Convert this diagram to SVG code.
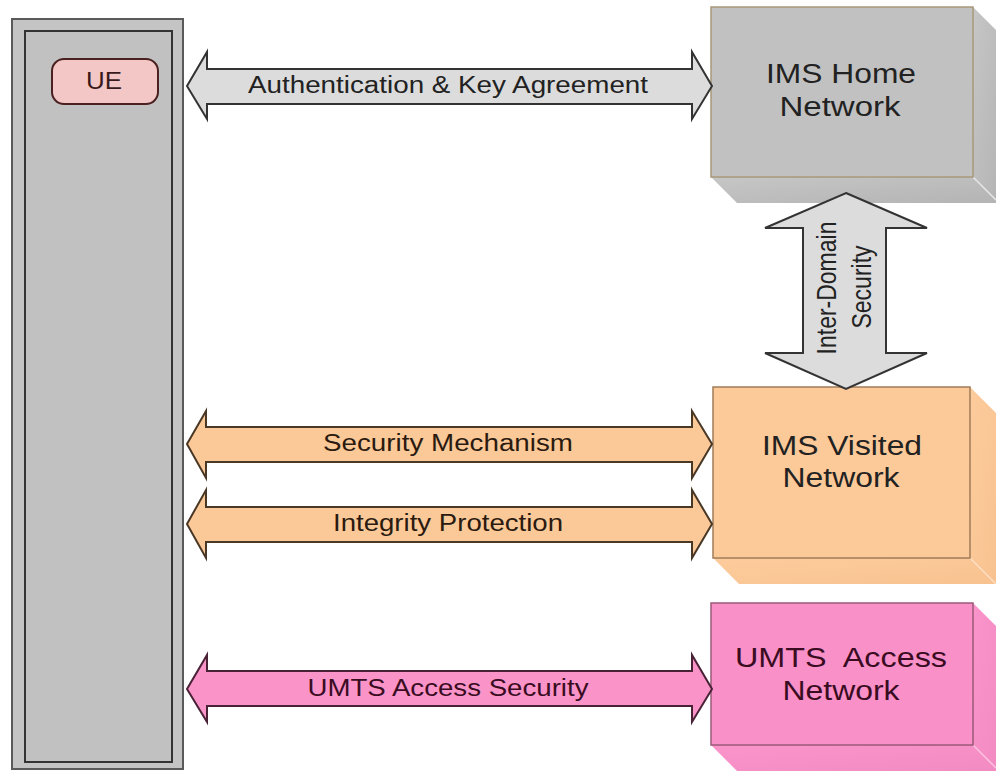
<svg xmlns="http://www.w3.org/2000/svg" width="996" height="771" viewBox="0 0 996 771">
  <style>
    text { font-family: "Liberation Sans", Arial, sans-serif; }
    .lbl { font-size: 23px; fill: #222; text-anchor: middle; }
    .big { font-size: 27px; fill: #222; text-anchor: middle; }
    .maroon { fill: #3a0c22; }
    .gray-arrow { fill: #dcdcdc; stroke: #333; stroke-width: 2; stroke-linejoin: miter; }
    .orange-arrow { fill: #fbc897; stroke: #4a3826; stroke-width: 2; }
    .pink-arrow { fill: #f993c8; stroke: #4a2236; stroke-width: 2; }
  </style>
  <defs>
    <linearGradient id="grayDepth" x1="0" y1="0" x2="1" y2="1">
      <stop offset="0" stop-color="#c6c6c6"/>
      <stop offset="1" stop-color="#b4b4b4"/>
    </linearGradient>
    <linearGradient id="orangeDepth" x1="0" y1="0" x2="1" y2="1">
      <stop offset="0" stop-color="#fdcc9c"/>
      <stop offset="1" stop-color="#f8c290"/>
    </linearGradient>
    <linearGradient id="pinkDepth" x1="0" y1="0" x2="1" y2="1">
      <stop offset="0" stop-color="#fa94cb"/>
      <stop offset="1" stop-color="#f28bc2"/>
    </linearGradient>
  </defs>

  <rect width="996" height="771" fill="#ffffff"/>

  <!-- UE terminal column -->
  <g id="ue">
    <rect x="12" y="19" width="171" height="750" fill="#c4c4c4" stroke="#5a5a5a" stroke-width="2"/>
    <rect x="25" y="31" width="147" height="731" fill="#c1c1c1" stroke="#333" stroke-width="2"/>
    <rect x="52" y="59" width="106" height="45" rx="12" ry="12" fill="#f4c7c7" stroke="#4a2020" stroke-width="2"/>
    <text class="lbl" x="104" y="89" textLength="36" lengthAdjust="spacingAndGlyphs" style="fill:#3a1a1a">UE</text>
  </g>

  <!-- IMS Home Network block -->
  <g id="ims-home">
    <polygon points="711,177 973,177 999,203 737,203" fill="url(#grayDepth)"/>
    <polygon points="973,7 999,33 999,203 973,177" fill="url(#grayDepth)"/>
    <line x1="973" y1="177" x2="996" y2="200" stroke="#e8e8e8" stroke-width="1.5"/>
    <rect x="711" y="7" width="262" height="170" fill="#c1c1c1" stroke="#a89878" stroke-width="1.5"/>
    <text class="big" x="841" y="83" textLength="150" lengthAdjust="spacingAndGlyphs">IMS Home</text>
    <text class="big" x="840" y="116" textLength="121" lengthAdjust="spacingAndGlyphs">Network</text>
  </g>

  <!-- IMS Visited Network block -->
  <g id="ims-visited">
    <polygon points="713,558 970,558 996,584 739,584" fill="url(#orangeDepth)"/>
    <polygon points="970,387 996,413 996,584 970,558" fill="url(#orangeDepth)"/>
    <line x1="970" y1="558" x2="996" y2="584" stroke="#fde0c4" stroke-width="1.5"/>
    <rect x="713" y="387" width="257" height="171" fill="#fcc998" stroke="#a07c5a" stroke-width="1.5"/>
    <text class="big" x="842" y="455" textLength="160" lengthAdjust="spacingAndGlyphs">IMS Visited</text>
    <text class="big" x="841" y="487" textLength="117" lengthAdjust="spacingAndGlyphs">Network</text>
  </g>

  <!-- UMTS Access Network block -->
  <g id="umts-access">
    <polygon points="711,745 973,745 999,771 737,771" fill="url(#pinkDepth)"/>
    <polygon points="973,603 999,629 999,771 973,745" fill="url(#pinkDepth)"/>
    <line x1="973" y1="745" x2="996" y2="768" stroke="#fcc0e0" stroke-width="1.5"/>
    <rect x="711" y="603" width="262" height="142" fill="#f990c8" stroke="#9a5a7a" stroke-width="1.5"/>
    <text class="big maroon" x="841" y="667" textLength="212" lengthAdjust="spacingAndGlyphs" xml:space="preserve">UMTS  Access</text>
    <text class="big maroon" x="841" y="700" textLength="117" lengthAdjust="spacingAndGlyphs">Network</text>
  </g>

  <!-- Security relations (double-headed block arrows) -->
  <g id="connectors">
    <g id="aka">
      <polygon class="gray-arrow" points="187,86 207,52 207,69 692,69 692,52 712,86 692,119 692,104 207,104 207,119"/>
      <text class="lbl" x="448" y="93" textLength="400" lengthAdjust="spacingAndGlyphs">Authentication &amp; Key Agreement</text>
    </g>
    <g id="inter-domain">
      <polygon class="gray-arrow" points="846,193 927,228 886,228 886,353 927,353 846,389 765,353 803,353 803,228 765,228"/>
      <text class="lbl" transform="translate(836,288) rotate(-90) scale(1,1.18)" x="0" y="0">Inter-Domain</text>
      <text class="lbl" transform="translate(871,287) rotate(-90) scale(1,1.18)" x="0" y="0">Security</text>
    </g>
    <g id="sec-mechanism">
      <polygon class="orange-arrow" points="187,444 206,411 206,427 692,427 692,411 712,444 692,478 692,462 206,462 206,478"/>
      <text class="lbl" x="448" y="451" textLength="250" lengthAdjust="spacingAndGlyphs" style="fill:#2a1a10">Security Mechanism</text>
    </g>
    <g id="integrity">
      <polygon class="orange-arrow" points="187,524 206,490 206,507 692,507 692,490 712,524 692,558 692,542 206,542 206,558"/>
      <text class="lbl" x="448" y="531" textLength="230" lengthAdjust="spacingAndGlyphs" style="fill:#2a1a10">Integrity Protection</text>
    </g>
    <g id="umts-security">
      <polygon class="pink-arrow" points="187,689 207,655 207,671 692,671 692,655 712,689 692,722 692,706 207,706 207,722"/>
      <text class="lbl maroon" x="448" y="696" textLength="281" lengthAdjust="spacingAndGlyphs">UMTS Access Security</text>
    </g>
  </g>
</svg>
